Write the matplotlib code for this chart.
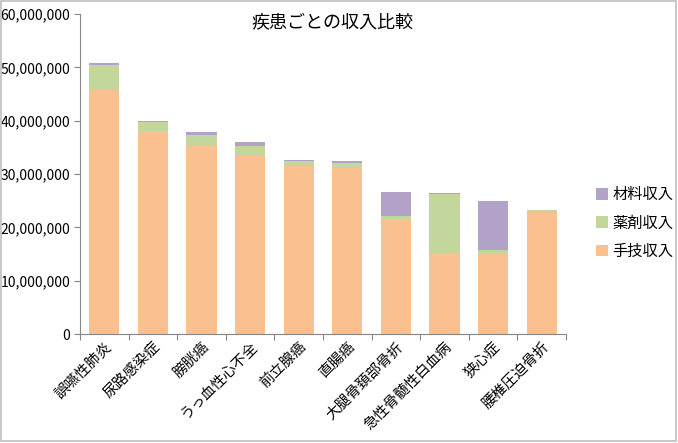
import numpy as np
import matplotlib
matplotlib.use("Agg")
import matplotlib.pyplot as plt
from matplotlib.ticker import FuncFormatter
from matplotlib.patches import Rectangle

plt.rcParams['font.family'] = ['Noto Sans CJK JP', 'DejaVu Sans']

# data (yen)
diseases = ["誤嚥性肺炎", "尿路感染症", "膀胱癌", "うっ血性心不全", "前立腺癌",
            "直腸癌", "大腿骨頚部骨折", "急性骨髄性白血病", "狭心症", "腰椎圧迫骨折"]
procedure = [45.7e6, 38.1e6, 35.2e6, 33.4e6, 31.5e6, 31.2e6, 21.6e6, 15.1e6, 15.0e6, 22.9e6]
drug = [4.7e6, 1.7e6, 2.2e6, 1.85e6, 1.0e6, 0.9e6, 0.5e6, 11.2e6, 0.7e6, 0.3e6]
material = [0.4e6, 0.1e6, 0.4e6, 0.75e6, 0.1e6, 0.4e6, 4.6e6, 0.05e6, 9.2e6, 0.05e6]
series_names = ["手技収入", "薬剤収入", "材料収入"]
colors = ["#FAC090", "#C3D69B", "#B3A2C7"]

fig = plt.figure(figsize=(6.78, 4.43), dpi=100)
fig.patch.set_facecolor("white")
ax = fig.add_axes([80 / 678, 1 - 334 / 443, (566 - 80) / 678, (334 - 14) / 443])

x = np.arange(len(diseases))
w = 0.62
b1 = ax.bar(x, procedure, w, color=colors[0], label=series_names[0])
b2 = ax.bar(x, drug, w, bottom=procedure, color=colors[1], label=series_names[1])
bottom3 = np.array(procedure) + np.array(drug)
b3 = ax.bar(x, material, w, bottom=bottom3, color=colors[2], label=series_names[2])

ax.set_xlim(-0.5, len(diseases) - 0.5)
ax.set_ylim(0, 60e6)
ax.set_yticks(np.arange(0, 60e6 + 1, 10e6))
ax.yaxis.set_major_formatter(FuncFormatter(lambda v, p: f"{int(v):,}"))
ax.set_xticks(np.arange(-0.5, len(diseases)), minor=False)
ax.set_xticklabels([])
ax.set_xticks(x, minor=True)
ax.set_xticklabels(diseases, minor=True, rotation=45, ha="right",
                   rotation_mode="anchor", fontsize=10.5)
ax.tick_params(axis="x", which="minor", length=0, pad=4)
ax.tick_params(axis="x", which="major", length=4, color="#868686")
ax.tick_params(axis="y", length=4, color="#868686", labelsize=10, pad=3)

for s in ["top", "right"]:
    ax.spines[s].set_visible(False)
for s in ["left", "bottom"]:
    ax.spines[s].set_color("#868686")

fig.text(0.491, 1 - 22 / 443, "疾患ごとの収入比較", ha="center", va="center", fontsize=13)

ax.legend(handles=[b3, b2, b1], labels=series_names[::-1], loc="center left",
          bbox_to_anchor=(582 / 678, 1 - 223 / 443), bbox_transform=fig.transFigure,
          frameon=False, fontsize=11, handlelength=0.8, handleheight=0.8,
          handletextpad=0.3, labelspacing=0.75)

fig.patches.append(Rectangle((0.002, 0.004), 0.995, 0.993, transform=fig.transFigure,
                             fill=False, edgecolor="#BFBFBF", linewidth=1.2))

fig.savefig("out.png", dpi=100)
